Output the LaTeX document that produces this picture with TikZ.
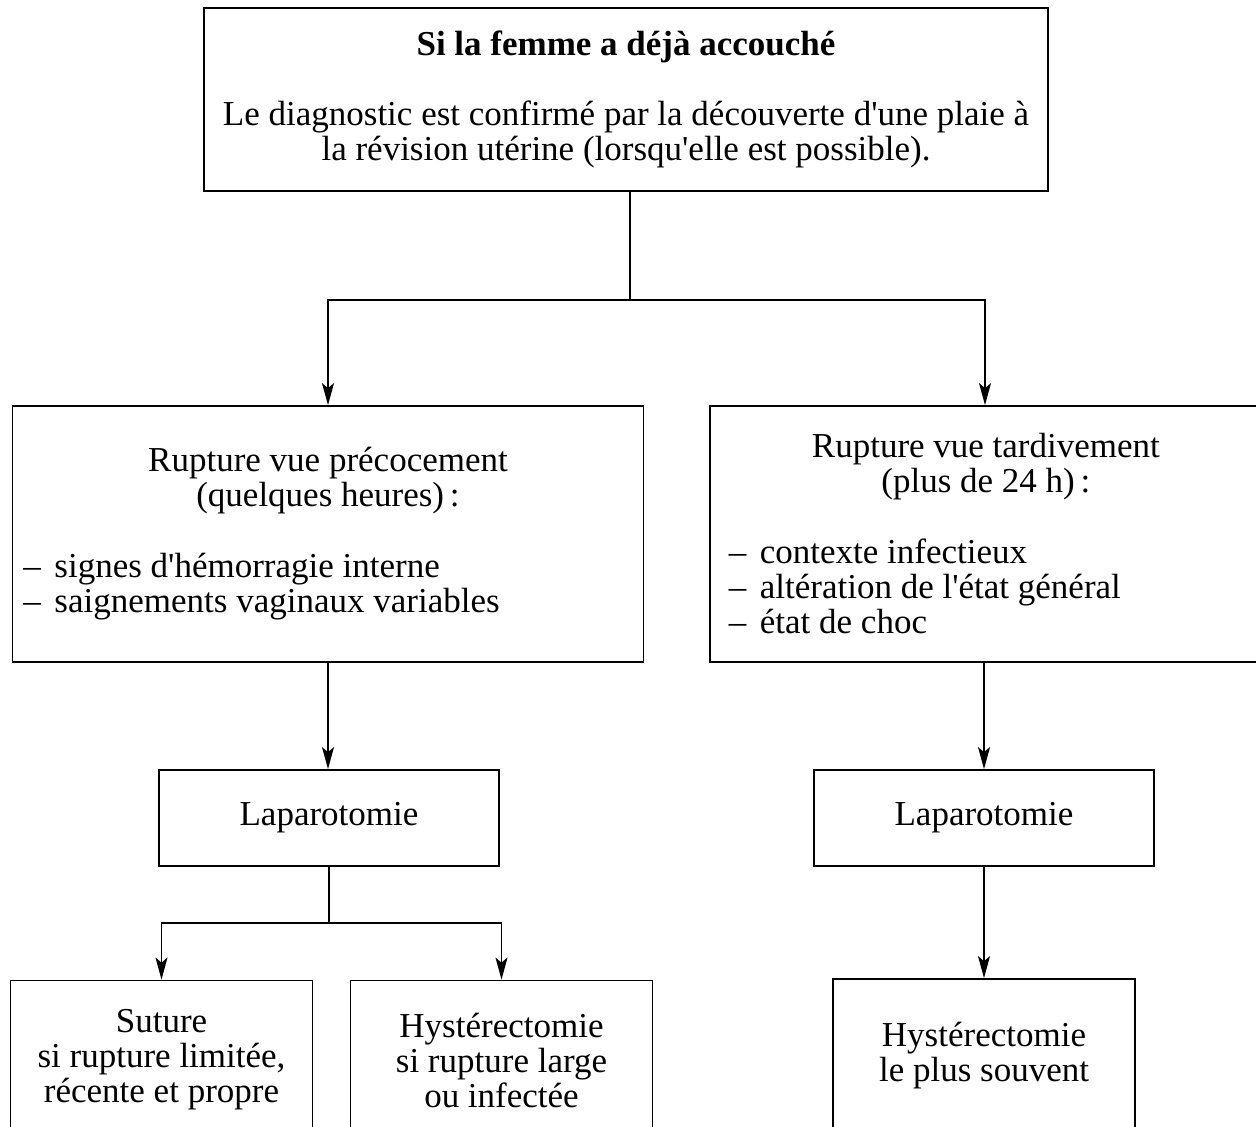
\documentclass[tikz,border=0pt]{standalone}
\usepackage{fontspec}
\setmainfont{Liberation Serif}
\usetikzlibrary{arrows.meta}

\newcommand{\tiret}{\makebox[15.5pt][l]{\textendash}}
\newcommand{\apos}{\textquotesingle}
\newcommand{\ligne}[3][c]{\makebox[#2][#1]{#3}}

\begin{document}
\begin{tikzpicture}[x=0.5pt,y=-0.5pt,
    boite/.style={draw,line width=0.9pt,inner sep=0pt,align=center,
      font=\fontsize{17.5}{17.5}\selectfont},
    fleche/.style={line width=0.7pt,-{Stealth[length=11pt,width=6pt,inset=2.5pt]}},
    trait/.style={line width=0.7pt}]

    \useasboundingbox (0,0) rectangle (1256,1127);
    \clip (0,0) rectangle (1256,1127);

    % top box
    \node[boite,minimum width=422pt,minimum height=91.5pt] (haut) at (626,99.5)
      {\textbf{Si la femme a déjà accouché}\\[17.5pt]
       Le diagnostic est confirmé par la découverte d\apos une plaie à\\
       la révision utérine (lorsqu\apos elle est possible).};

    % second row
    \node[boite,align=left,inner xsep=5.5pt,minimum height=128pt] (gauche) at (328,534)
      {\ligne{304.5pt}{Rupture vue précocement}\\
       \ligne{304.5pt}{(quelques heures)\,:}\\[18pt]
       \tiret signes d\apos hémorragie interne\\
       \tiret saignements vaginaux variables};
    \node[boite,align=left,inner xsep=9.5pt,minimum height=128pt,
          anchor=west] (droite) at (709,534)
      {\ligne{257pt}{Rupture vue tardivement}\\
       \ligne{257pt}{(plus de 24~h)\,:}\\[18pt]
       \ligne[l]{290pt}{\tiret contexte infectieux}\\
       \tiret altération de l\apos état général\\
       \tiret état de choc};

    % third row
    \node[boite,minimum width=170pt,minimum height=48pt] (lapg) at (329,818)
      {Laparotomie};
    \node[boite,minimum width=170pt,minimum height=48pt] (lapd) at (984,818)
      {Laparotomie};

    % bottom row (cut by the page)
    \node[boite,minimum width=151pt,minimum height=79.5pt] (suture) at (161.5,1060)
      {Suture\\si rupture limitée,\\récente et propre};
    \node[boite,minimum width=151pt,minimum height=79.5pt] (hystg) at (501.5,1060)
      {Hystérectomie\\si rupture large\\ou infectée};
    \node[boite,minimum width=151pt,minimum height=77pt] (hystd) at (984,1056)
      {Hystérectomie\\le plus souvent};

    % connectors
    \path (haut.south) ++(4,108) coordinate (fourche);
    \draw[trait] (haut.south -| fourche) -- (fourche);
    \draw[fleche] (fourche) -| (gauche.north);
    \draw[fleche] (fourche) -| ([xshift=0.5pt]lapd.north |- droite.north);

    \draw[fleche] (gauche.south) -- (lapg.north -| gauche.south);
    \draw[fleche] (lapd.north |- droite.south) -- (lapd.north);

    \path (lapg.south) ++(0,56) coordinate (fourche2);
    \draw[trait] (lapg.south) -- (fourche2);
    \draw[fleche] (fourche2) -| (suture.north);
    \draw[fleche] (fourche2) -| (hystg.north);

    \draw[fleche] (lapd.south) -- (hystd.north);
\end{tikzpicture}
\end{document}
